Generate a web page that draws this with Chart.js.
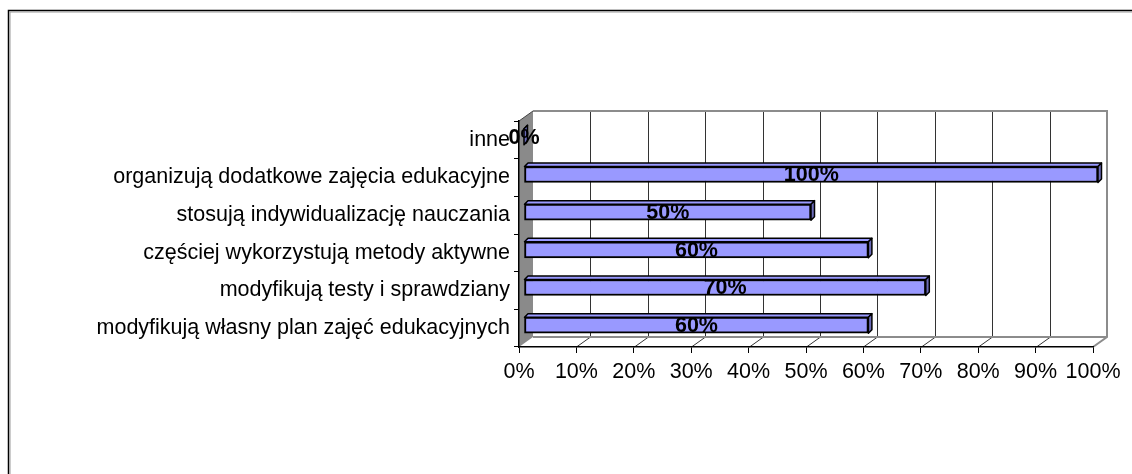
<!DOCTYPE html>
<html>
<head>
<meta charset="utf-8">
<script src="https://cdn.jsdelivr.net/npm/chart.js@4/dist/chart.umd.min.js"></script>
<style>
  html, body { margin: 0; padding: 0; background: #fff; }
  #wrap { width: 1132px; height: 474px; position: relative; }
</style>
</head>
<body>
<div id="wrap"><canvas id="c" width="1132" height="474"></canvas></div>
<script>
// ---- data ----
const categories = [
  'inne',
  'organizują dodatkowe zajęcia edukacyjne',
  'stosują indywidualizację nauczania',
  'częściej wykorzystują metody aktywne',
  'modyfikują testy i sprawdziany',
  'modyfikują własny plan zajęć edukacyjnych'
];
const values = [0, 100, 50, 60, 70, 60];
const axisMin = 0;
const axisMax = 100;
const axisStep = 10;

// ---- 3D look ----
const DEPTH_X = 14, DEPTH_Y = -10;     // wall depth
const BAR_SHIFT_X = 5, BAR_SHIFT_Y = -3; // bars sit at mid-depth
const BAR_D = 3.5;                      // bar depth
const FONT = '"Liberation Sans", Arial, sans-serif';

const wallsPlugin = {
  id: 'walls',
  beforeDraw(chart) {
    const ctx = chart.ctx;
    const a = chart.chartArea;
    const xs = chart.scales.x;
    ctx.save();
    ctx.fillStyle = '#fff';
    ctx.fillRect(0, 0, chart.width, chart.height);
    // outer frame (top + left)
    ctx.strokeStyle = '#000';
    ctx.lineWidth = 1.5;
    ctx.beginPath();
    ctx.moveTo(8.5, chart.height);
    ctx.lineTo(8.5, 10.5);
    ctx.lineTo(chart.width, 10.5);
    ctx.stroke();
    ctx.strokeStyle = '#999';
    ctx.lineWidth = 1;
    ctx.beginPath();
    ctx.moveTo(10, chart.height);
    ctx.lineTo(10, 12);
    ctx.lineTo(chart.width, 12);
    ctx.stroke();

    const L = a.left, R = a.right, T = a.top, B = a.bottom;
    const bl = L + DEPTH_X, br = R + DEPTH_X, bt = T + DEPTH_Y, bb = B + DEPTH_Y;

    // left wall
    ctx.fillStyle = '#8a8a8a';
    ctx.beginPath();
    ctx.moveTo(L, T); ctx.lineTo(bl, bt); ctx.lineTo(bl, bb); ctx.lineTo(L, B); ctx.closePath();
    ctx.fill();
    ctx.strokeStyle = '#444';
    ctx.lineWidth = 1;
    ctx.beginPath();
    ctx.moveTo(L, T); ctx.lineTo(bl, bt);
    ctx.stroke();

    // back wall gridlines
    ctx.strokeStyle = '#333';
    ctx.lineWidth = 1;
    for (let v = axisMin + axisStep; v < axisMax; v += axisStep) {
      const xf = Math.round(xs.getPixelForValue(v)) + 0.5;
      const xb = xf + DEPTH_X;
      ctx.beginPath();
      ctx.moveTo(xb, bt); ctx.lineTo(xb, bb);
      ctx.stroke();
      // floor gridline
      ctx.beginPath();
      ctx.moveTo(xf, B); ctx.lineTo(xb, bb);
      ctx.stroke();
    }
    // back wall / floor edges (gray)
    ctx.strokeStyle = '#8c8c8c';
    ctx.lineWidth = 2;
    ctx.beginPath();
    ctx.moveTo(bl, bt); ctx.lineTo(br, bt); ctx.lineTo(br, bb); ctx.lineTo(R, B);
    ctx.moveTo(bl, bb); ctx.lineTo(br, bb);
    ctx.stroke();
    ctx.restore();
  },
  beforeDatasetsDraw(chart) {
    chart.ctx.save();
    chart.ctx.translate(BAR_SHIFT_X, BAR_SHIFT_Y);
  },
  afterDatasetsDraw(chart) {
    const ctx = chart.ctx;
    const meta = chart.getDatasetMeta(0);
    meta.data.forEach((bar) => {
      const p = bar.getProps(['x', 'y', 'base', 'height'], true);
      const left = Math.min(p.x, p.base), right = Math.max(p.x, p.base);
      const top = p.y - p.height / 2, bottom = p.y + p.height / 2;
      ctx.lineJoin = 'round';
      ctx.strokeStyle = '#000';
      ctx.lineWidth = 1.5;
      // top face
      ctx.fillStyle = '#9999ff';
      ctx.beginPath();
      ctx.moveTo(left, top); ctx.lineTo(left + BAR_D, top - BAR_D);
      ctx.lineTo(right + BAR_D, top - BAR_D); ctx.lineTo(right, top); ctx.closePath();
      ctx.fill(); ctx.stroke();
      // side face
      ctx.fillStyle = '#6b6bb8';
      ctx.beginPath();
      ctx.moveTo(right, top); ctx.lineTo(right + BAR_D, top - BAR_D);
      ctx.lineTo(right + BAR_D, bottom - BAR_D); ctx.lineTo(right, bottom); ctx.closePath();
      ctx.fill(); ctx.stroke();
    });
    // data labels
    ctx.fillStyle = '#000';
    ctx.font = 'bold 21.5px ' + FONT;
    ctx.textAlign = 'center';
    ctx.textBaseline = 'middle';
    meta.data.forEach((bar, i) => {
      const p = bar.getProps(['x', 'y', 'base'], true);
      ctx.fillText(values[i] + '%', (p.x + p.base) / 2, p.y + 1);
    });
    ctx.restore();
  }
};

new Chart(document.getElementById('c'), {
  type: 'bar',
  data: {
    labels: categories,
    datasets: [{
      data: values,
      backgroundColor: '#9999ff',
      borderColor: '#000',
      borderWidth: 2,
      borderSkipped: false,
      barThickness: 16
    }]
  },
  plugins: [wallsPlugin],
  options: {
    indexAxis: 'y',
    responsive: false,
    animation: false,
    layout: { padding: { top: 121, right: 39, left: 0, bottom: 0 } },
    plugins: { legend: { display: false }, tooltip: { enabled: false } },
    scales: {
      x: {
        min: axisMin, max: axisMax,
        afterFit(s) { s.height = 474 - 347; },
        grid: { drawOnChartArea: false, drawTicks: true, tickLength: 6, color: '#000' },
        border: { display: true, color: '#000', width: 1.5 },
        ticks: {
          stepSize: axisStep,
          color: '#000',
          padding: 6,
          maxRotation: 0,
          minRotation: 0,
          autoSkip: false,
          font: { family: FONT, size: 21.5 },
          callback: (v) => v + '%'
        }
      },
      y: {
        afterFit(s) { s.width = 519; },
        grid: { drawOnChartArea: false, drawTicks: true, tickLength: 5, color: '#000', offset: true },
        border: { display: true, color: '#000', width: 1.5 },
        ticks: {
          color: '#000',
          padding: 4,
          font: { family: FONT, size: 21.5 }
        }
      }
    }
  }
});
</script>
</body>
</html>
